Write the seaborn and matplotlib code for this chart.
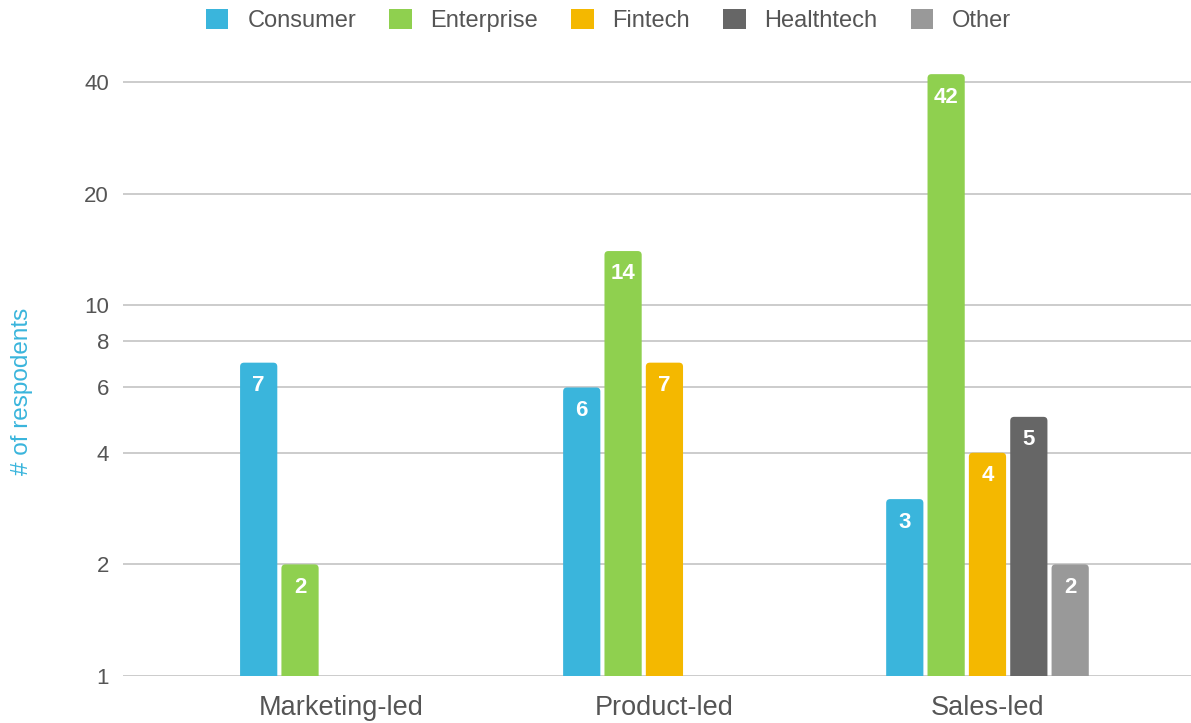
import matplotlib
matplotlib.use("Agg")
import matplotlib.pyplot as plt
import matplotlib.ticker as mticker
from matplotlib.patches import FancyBboxPatch
from matplotlib.transforms import IdentityTransform
import seaborn as sns
import pandas as pd

# Survey counts by go-to-market strategy and sector
strategies = ["Marketing-led", "Product-led", "Sales-led"]
sectors = ["Consumer", "Enterprise", "Fintech", "Healthtech", "Other"]
consumer = [7, 6, 3]
enterprise = [2, 14, 42]
fintech = [None, 7, 4]
healthtech = [None, None, 5]
other = [None, None, 2]
y_ticks = [1, 2, 4, 6, 8, 10, 20, 40]

colors = ["#3AB5DC", "#8FD04F", "#F4B800", "#666666", "#999999"]

rows = []
for sector, vals in zip(sectors, [consumer, enterprise, fintech, healthtech, other]):
    for strat, v in zip(strategies, vals):
        if v is not None:
            rows.append({"strategy": strat, "sector": sector, "count": v})
df = pd.DataFrame(rows)

sns.set_theme(style="white")
plt.rcParams["font.family"] = ["Liberation Sans", "DejaVu Sans"]

DPI = 100
fig = plt.figure(figsize=(11.91, 7.23), dpi=DPI)
ax = fig.add_axes([123 / 1191, 1 - 676 / 723, 1 - 123 / 1191, (676 - 59.5) / 723])

sns.barplot(
    data=df, x="strategy", y="count", hue="sector",
    order=strategies, hue_order=sectors, palette=colors,
    width=0.64, gap=0.1, saturation=1,
    linewidth=0, ax=ax, legend=True,
)

ax.set_yscale("log")
ax.set_ylim(1, 46)
ax.set_xlim(-0.676, 2.63)
ax.yaxis.set_major_locator(mticker.FixedLocator(y_ticks))
ax.yaxis.set_minor_locator(mticker.NullLocator())
ax.yaxis.set_major_formatter(mticker.FixedFormatter([str(t) for t in y_ticks]))
ax.set_axisbelow(True)
ax.grid(axis="y", color="#cccccc", linewidth=1.4)
ax.grid(axis="x", visible=False)
for s in ax.spines.values():
    s.set_visible(False)
ax.tick_params(axis="y", length=0, pad=10, labelsize=16, labelcolor="#555555")
ax.tick_params(axis="x", length=0, pad=14, labelsize=19.5, labelcolor="#555555")
ax.set_xlabel("")
ax.set_ylabel("")
fig.text(22 / 1191, 1 - 391 / 723, "# of respodents", rotation=90,
         ha="center", va="center", color="#3AB5DC", fontsize=17.5)

# Give each bar slightly rounded top corners (drawn in pixel space,
# since the log axis would distort a rounding radius in data units)
ybottom_px = ax.transData.transform((0, 1))[1] - 8
for container in ax.containers:
    for bar in container:
        h = bar.get_height()
        if not h or h <= 0:
            continue
        x0, y1 = ax.transData.transform((bar.get_x(), h))
        x1, _ = ax.transData.transform((bar.get_x() + bar.get_width(), h))
        rounded = FancyBboxPatch(
            (x0, ybottom_px), x1 - x0, y1 - ybottom_px,
            boxstyle="round,pad=0,rounding_size=4",
            transform=IdentityTransform(), facecolor=bar.get_facecolor(),
            edgecolor="none", zorder=3,
        )
        rounded.set_clip_path(ax.patch)
        ax.add_artist(rounded)
        bar.set_visible(False)
        ax.annotate(
            f"{int(round(h))}",
            xy=(bar.get_x() + bar.get_width() / 2, h),
            xytext=(0, -16.5), textcoords="offset points",
            ha="center", va="center", color="white",
            fontsize=16, fontweight="bold", zorder=4,
        )

handles, labels = ax.get_legend_handles_labels()
ax.get_legend().remove()
fig.legend(
    handles, labels, loc="upper center", bbox_to_anchor=(0.511, 1.017),
    ncol=5, frameon=False, fontsize=17, handlelength=0.95, handleheight=0.95,
    handletextpad=0.8, columnspacing=1.4, labelcolor="#555555",
)

fig.savefig("out.png", dpi=DPI)
